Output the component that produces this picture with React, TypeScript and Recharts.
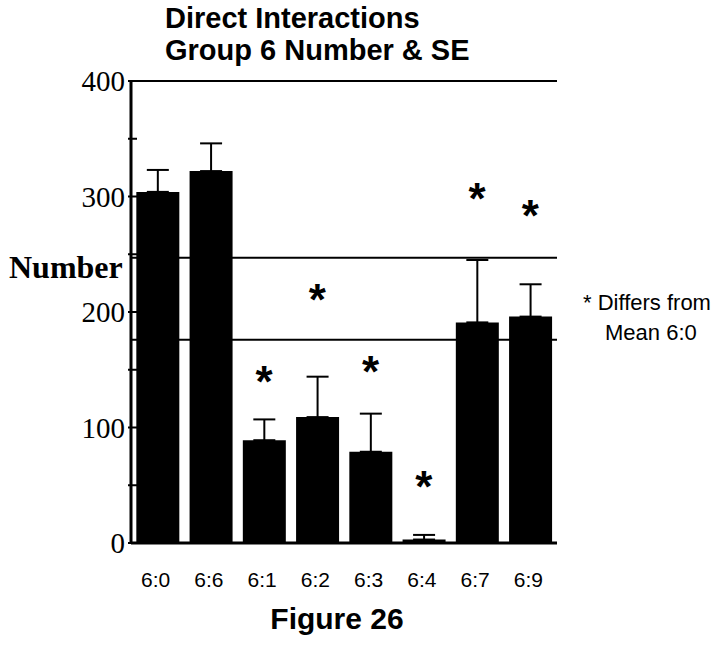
import React from 'react';
import { ComposedChart, Bar, XAxis, YAxis, ErrorBar, ReferenceLine, Scatter } from 'recharts';

// Group labels along the x axis
const groups = ['6:0', '6:6', '6:1', '6:2', '6:3', '6:4', '6:7', '6:9'];
// Mean number of direct interactions per group
const means = [304, 322, 89, 109, 79, 3, 191, 196];
// Standard error (drawn upward from the bar top)
const standardErrors = [19, 24, 18, 35, 33, 4, 54, 28];
// Height of the significance asterisk above each group (null = no asterisk)
const starHeights: (number | null)[] = [null, null, 147, 218, 156, 56, 306, 291];
// Y axis ticks; only the hundreds carry a label
const yTicks = [0, 50, 100, 150, 200, 250, 300, 350, 400];
const yLabelled = [0, 100, 200, 300, 400];
// Horizontal band lines across the plot
const bandLines = [176, 247];
// Boundaries between group slots, for the x-axis tick marks
const slotEdges = [0, 1, 2, 3, 4, 5, 6, 7, 8];

const data = groups.map((group, i) => ({
  group,
  mean: means[i],
  err: [0, standardErrors[i]],
  star: starHeights[i],
}));

const SERIF = '"Liberation Serif", "Times New Roman", serif';
const SANS = '"Liberation Sans", Arial, sans-serif';

const YTick = (props: any) => {
  const { x, y, payload } = props;
  const v = payload.value;
  return (
    <g>
      <line x1={x - 3} x2={x + 6} y1={y} y2={y} stroke="#000" strokeWidth={2} />
      {yLabelled.includes(v) && (
        <text x={x - 6} y={y} dy="0.35em" textAnchor="end" fontFamily={SERIF} fontSize={29} fill="#000">
          {v}
        </text>
      )}
    </g>
  );
};

const XTick = (props: any) => {
  const { x, y, payload } = props;
  return (
    <text x={x - 2} y={y + 36} textAnchor="middle" fontFamily={SANS} fontSize={21} fill="#000">
      {payload.value}
    </text>
  );
};

const Star = (props: any) => {
  const { cx, cy, payload } = props;
  if (payload == null || payload.star == null) return <g />;
  return (
    <text x={cx} y={cy + 24} textAnchor="middle" fontFamily={SANS} fontWeight="bold" fontSize={44} fill="#000">
      *
    </text>
  );
};

export default function App() {
  return (
    <div style={{ position: 'absolute', left: 0, top: 0, width: 728, height: 650, background: '#fff' }}>
      <div
        style={{
          position: 'absolute',
          left: 165,
          top: 2,
          fontFamily: SANS,
          fontWeight: 'bold',
          fontSize: 29,
          lineHeight: '32px',
          whiteSpace: 'nowrap',
          color: '#000',
        }}
      >
        <div>Direct Interactions</div>
        <div>Group 6 Number &amp; SE</div>
      </div>
      <div
        style={{
          position: 'absolute',
          left: 9,
          top: 249,
          fontFamily: SERIF,
          fontWeight: 'bold',
          fontSize: 32,
          whiteSpace: 'nowrap',
          color: '#000',
        }}
      >
        Number
      </div>
      <div
        style={{
          position: 'absolute',
          left: 583,
          top: 288,
          fontFamily: SANS,
          fontSize: 22,
          lineHeight: '30px',
          whiteSpace: 'nowrap',
          color: '#000',
        }}
      >
        <div>* Differs from</div>
        <div style={{ paddingLeft: 22 }}>Mean 6:0</div>
      </div>
      <div
        style={{
          position: 'absolute',
          left: 0,
          width: 674,
          top: 602,
          textAlign: 'center',
          fontFamily: SANS,
          fontWeight: 'bold',
          fontSize: 30,
          whiteSpace: 'nowrap',
          color: '#000',
        }}
      >
        Figure 26
      </div>
      <div style={{ position: 'absolute', left: 0, top: 0 }}>
        <ComposedChart
          width={728}
          height={650}
          data={data}
          margin={{ top: 81, right: 171, bottom: 67, left: 71 }}
          barCategoryGap="10%"
        >
          <XAxis
            xAxisId="edge"
            type="number"
            domain={[0, 8]}
            ticks={slotEdges}
            height={0}
            axisLine={false}
            tickSize={7}
            tickLine={{ stroke: '#000', strokeWidth: 2 }}
            tick={() => <g />}
          />
          <XAxis
            xAxisId="cat"
            dataKey="group"
            height={40}
            tickLine={false}
            axisLine={{ stroke: '#000', strokeWidth: 3 }}
            tick={<XTick />}
            interval={0}
          />
          <YAxis
            domain={[0, 400]}
            ticks={yTicks}
            width={60}
            tickSize={0}
            tickMargin={0}
            tickLine={false}
            axisLine={{ stroke: '#000', strokeWidth: 3 }}
            tick={<YTick />}
            interval={0}
          />
          <ReferenceLine xAxisId="cat" y={400} stroke="#000" strokeWidth={2} />
          {bandLines.map((v) => (
            <ReferenceLine key={v} xAxisId="cat" y={v} stroke="#000" strokeWidth={2} />
          ))}
          <ReferenceLine xAxisId="edge" x={8} stroke="#000" strokeWidth={2} />
          <Bar xAxisId="cat" dataKey="mean" fill="#000" isAnimationActive={false}>
            <ErrorBar dataKey="err" direction="y" width={11} stroke="#000" strokeWidth={2} />
          </Bar>
          <Scatter xAxisId="cat" dataKey="star" shape={<Star />} isAnimationActive={false} />
        </ComposedChart>
      </div>
    </div>
  );
}
